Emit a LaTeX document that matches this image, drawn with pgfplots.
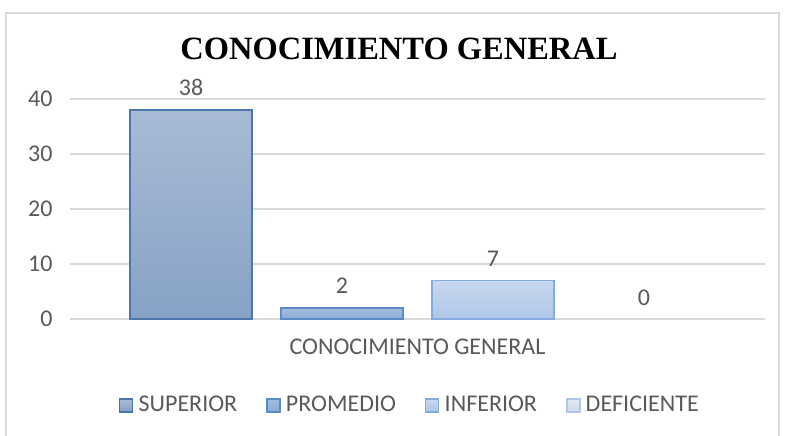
\documentclass[border=0pt]{standalone}
\usepackage{pgfplots}
\pgfplotsset{compat=1.18}
\usepackage{fontspec}
\setmainfont{Carlito}
\newfontfamily\titlefont{Liberation Serif}
\definecolor{txtgray}{HTML}{595959}
\definecolor{gridgray}{HTML}{D9D9D9}
\definecolor{supB}{HTML}{4A78AC}\definecolor{supT}{HTML}{A9BBD5}\definecolor{supL}{HTML}{86A2C6}
\definecolor{proB}{HTML}{5A8DC8}\definecolor{proT}{HTML}{A4BEE0}\definecolor{proL}{HTML}{8CA9D2}
\definecolor{infB}{HTML}{84ACDF}\definecolor{infT}{HTML}{C8D8EE}\definecolor{infL}{HTML}{AEC7E8}
\definecolor{defB}{HTML}{AFC6E6}\definecolor{defT}{HTML}{E2E9F4}\definecolor{defL}{HTML}{CDDBEE}
\begin{document}
\begin{tikzpicture}
\useasboundingbox (0,0) rectangle (785bp,436bp);
\draw[gridgray, line width=1.5bp] (6bp,-2bp) rectangle (779bp,423bp);
\node[font=\titlefont\bfseries\fontsize{32.5bp}{36bp}\selectfont, inner sep=0pt] at (399bp,387bp) {CONOCIMIENTO GENERAL};
\begin{axis}[
  at={(70bp,117bp)}, anchor=south west,
  scale only axis, width=695bp, height=220bp,
  font=\fontsize{24bp}{28bp}\selectfont, /pgf/number format/assume math mode=true,
  ybar=29bp, bar width=122bp,
  xmin=-1, xmax=1, ymin=0, ymax=40,
  xtick={0}, xticklabels={CONOCIMIENTO GENERAL},
  ytick={0,10,20,30,40},
  ymajorgrids, grid style={gridgray, line width=1.2bp},
  axis line style={draw=none}, major tick length=0pt,
  tick label style={txtgray},
  yticklabel style={xshift=-14bp},
  xticklabel style={yshift=-16bp},
  nodes near coords, every node near coord/.append style={txtgray, anchor=south, yshift=10bp},
  legend style={at={(0.489,-0.39)}, anchor=center, draw=none, fill=none,
    legend columns=4, text=txtgray,
    /tikz/every even column/.append style={column sep=27bp}},
  legend image code/.code={\path[draw=none,fill=none] (0bp,0bp) -- (17bp,0bp);\draw[#1, line width=1.5bp] (0bp,-7bp) rectangle (13bp,6bp);},
  clip=false,
]
\addplot[draw=supB, line width=1.5bp, top color=supT, bottom color=supL] coordinates {(0,38)};
\addplot[draw=proB, line width=1.5bp, top color=proT, bottom color=proL] coordinates {(0,2)};
\addplot[draw=infB, line width=1.5bp, top color=infT, bottom color=infL] coordinates {(0,7)};
\addplot[draw=none, fill=none,
  legend image code/.code={\path[draw=none,fill=none] (0bp,0bp) -- (17bp,0bp);\draw[draw=defB, top color=defT, bottom color=defL, line width=1.5bp] (0bp,-7bp) rectangle (13bp,6bp);}]
  coordinates {(0,0)};
\legend{SUPERIOR,PROMEDIO,INFERIOR,DEFICIENTE}
\end{axis}
\end{tikzpicture}
\end{document}
